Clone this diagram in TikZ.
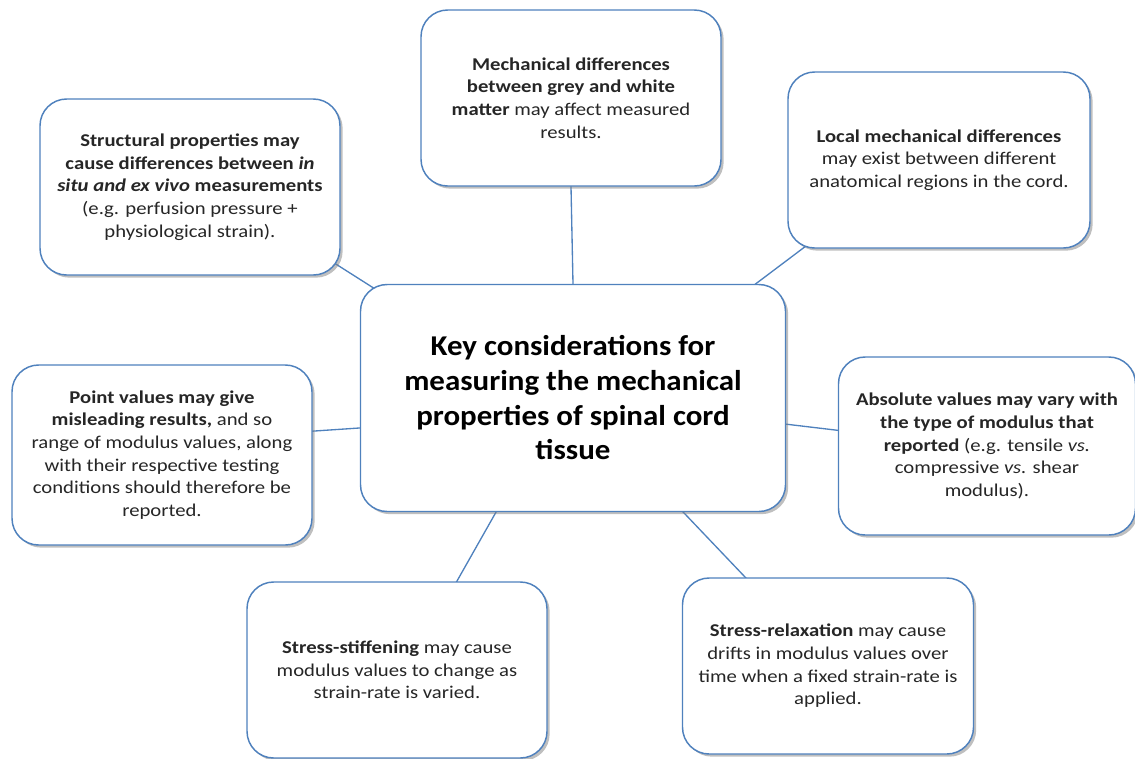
\documentclass[tikz,border=0pt]{standalone}
\usepackage{fontspec}
\setmainfont{Carlito}[FakeStretch=1.15]
\newfontfamily\corefont{Carlito}[FakeStretch=1.08]
\usetikzlibrary{shadows,backgrounds}
\definecolor{edgeblue}{RGB}{79,129,189}

\begin{document}
\begin{tikzpicture}[x=0.75pt,y=-0.75pt,
  box/.style={draw=edgeblue,line width=1.1pt,fill=white,rounded corners=20pt,
    minimum width=225pt,minimum height=132pt,align=center,inner sep=2pt,
    font=\fontsize{13.5}{17}\selectfont,text=black!85,
    drop shadow={shadow xshift=2pt,shadow yshift=-2pt,opacity=0.5}},
  link/.style={draw=edgeblue,line width=1pt,shorten <=-8pt,shorten >=-8pt}]
\useasboundingbox (0,0) rectangle (1135,758);

\node [box,minimum width=318.75pt,minimum height=170.25pt,
  font=\corefont\fontsize{21.5}{26}\selectfont\bfseries,text=black] (core) at (573,398)
  {Key considerations for\\measuring the mechanical\\properties of spinal cord\\tissue};

\node [box] (situ) at (190,187)
  {\textbf{Structural properties may}\\
   \textbf{cause differences between \textit{in}}\\
   \textbf{\textit{situ and ex vivo} measurements}\\
   (e.g. perfusion pressure +\\
   physiological strain).};
\node [box] (grey) at (571,98)
  {\textbf{Mechanical differences}\\
   \textbf{between grey and white}\\
   \textbf{matter} may affect measured\\
   results.};
\node [box,minimum width=226.5pt] (local) at (939,160)
  {\textbf{Local mechanical differences}\\
   may exist between different\\
   anatomical regions in the cord.};
\node [box,minimum width=222.75pt,minimum height=133.5pt] (absval) at (987,446)
  {\textbf{Absolute values may vary with}\\
   \textbf{the type of modulus that}\\
   \textbf{reported} (e.g. tensile \textit{vs.}\\
   compressive \textit{vs.} shear\\
   modulus).};
\node [box,minimum height=135pt] (point) at (162,455)
  {\textbf{Point values may give}\\
   \textbf{misleading results,} and so\\
   range of modulus values, along\\
   with their respective testing\\
   conditions should therefore be\\
   reported.};
\node [box] (stiff) at (397,670)
  {\textbf{Stress-stiffening} may cause\\
   modulus values to change as\\
   strain-rate is varied.};
\node [box,minimum width=218.25pt] (relax) at (828,666)
  {\textbf{Stress-relaxation} may cause\\
   drifts in modulus values over\\
   time when a fixed strain-rate is\\
   applied.};

\begin{scope}[on background layer]
\draw [link] (situ.-28) -- (core.151);
\draw [link] (grey.south) -- (core.90);
\draw [link] (local.213) -- (core.32);
\draw [link] (point.9) -- (core.188);
\draw [link] (absval.174) -- (core.-7);
\draw [link] (stiff.56) -- (core.236);
\draw [link] (relax.133) -- (core.-46);
\end{scope}
\end{tikzpicture}
\end{document}
